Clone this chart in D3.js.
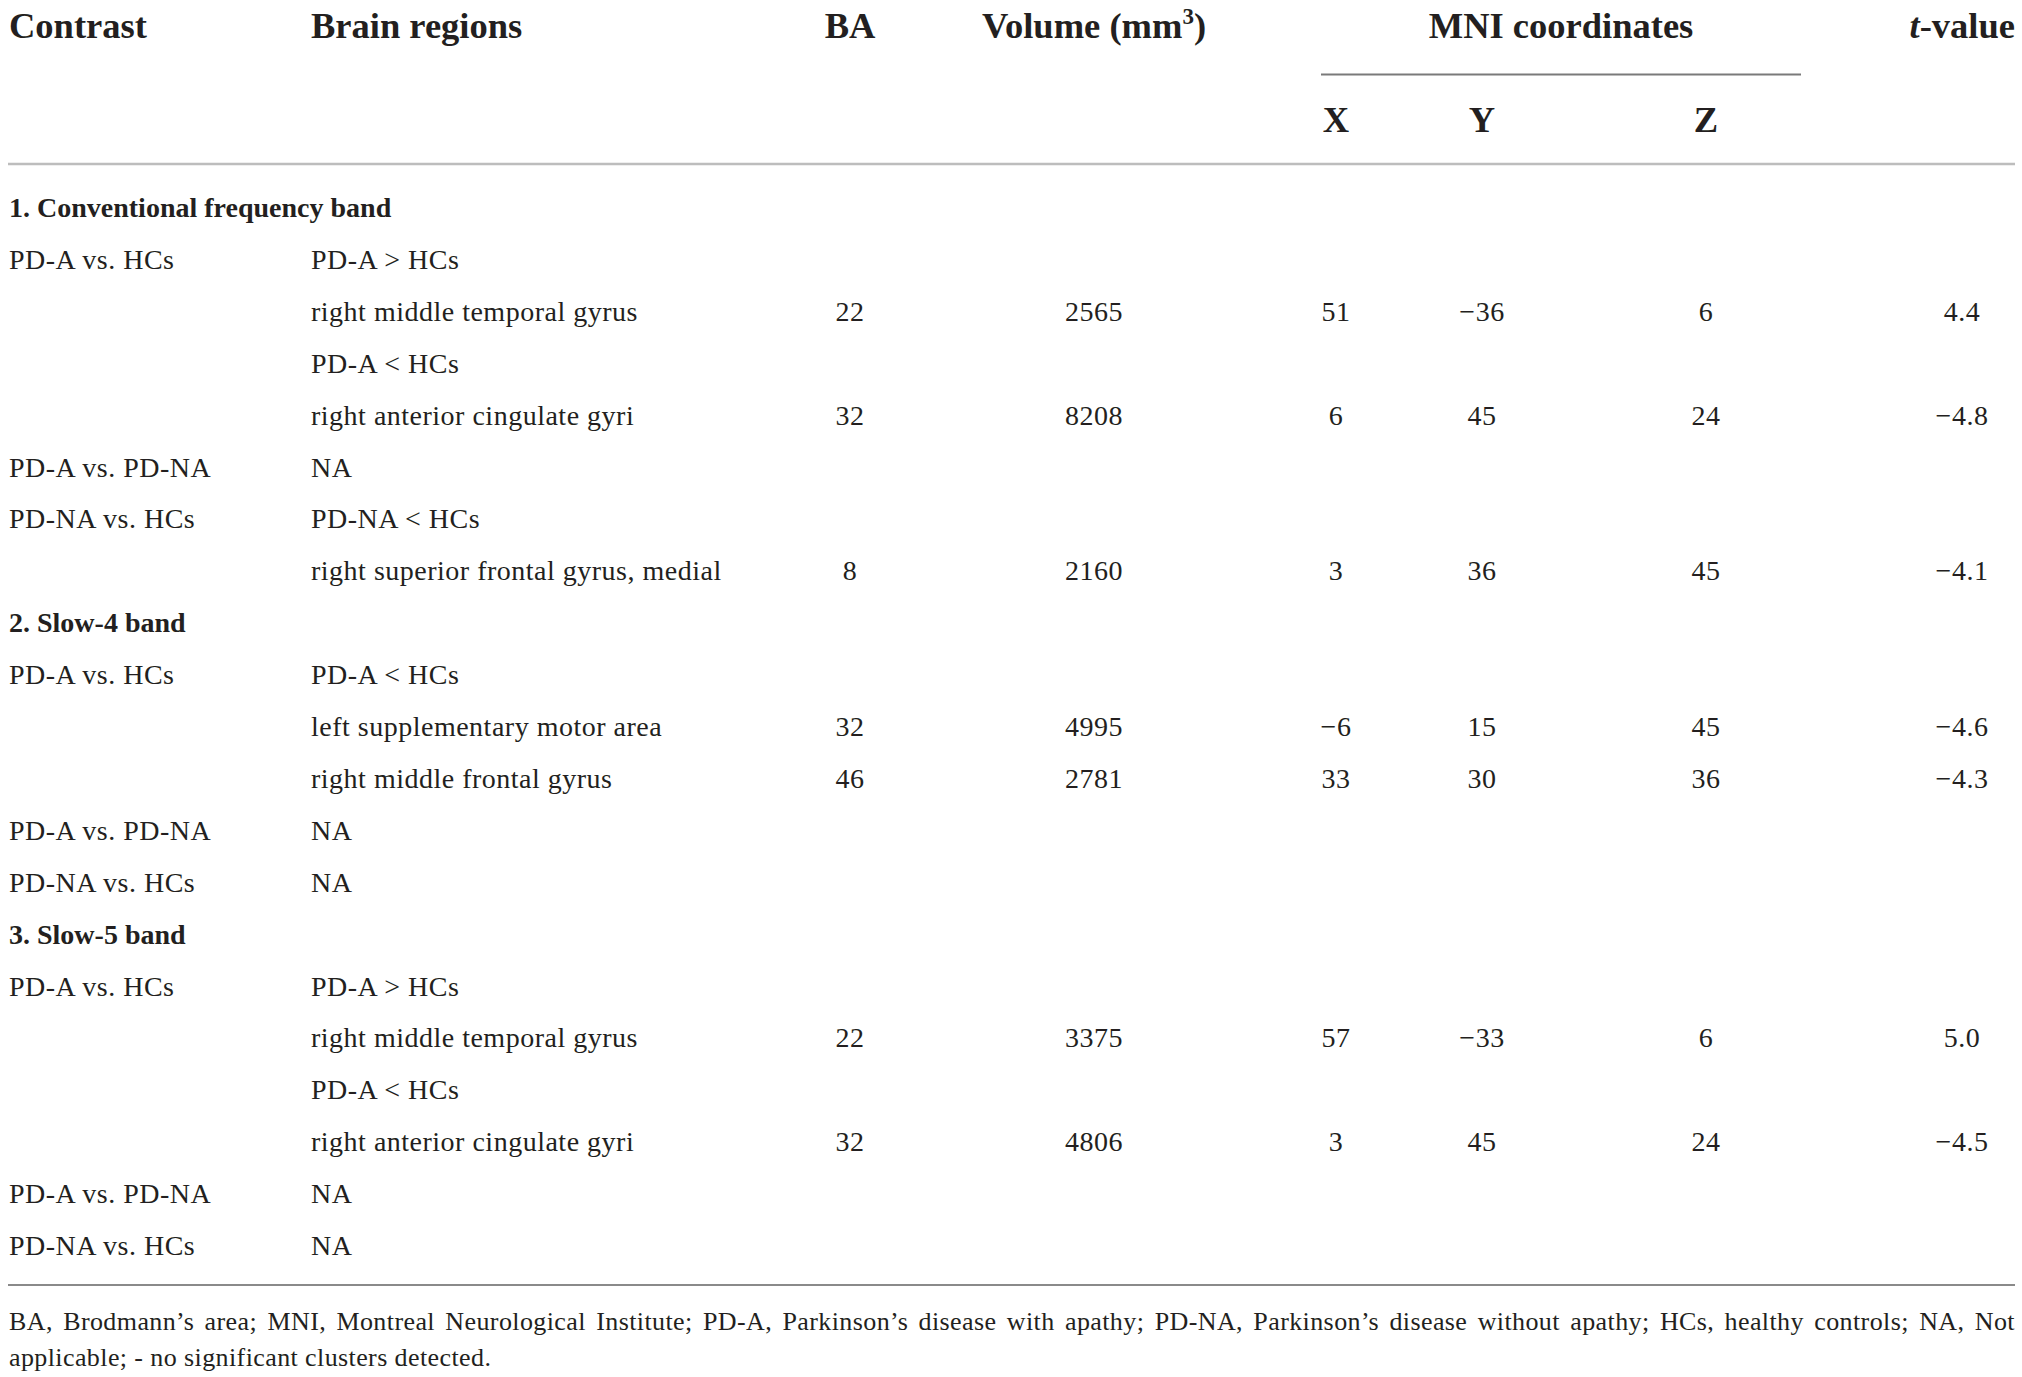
<!DOCTYPE html>
<html>
<head>
<meta charset="utf-8">
<script src="https://cdn.jsdelivr.net/npm/d3@7"></script>
<style>
  html, body { margin: 0; padding: 0; background: #fff; }
  svg { display: block; }
  text { font-family: "Liberation Serif", "Times New Roman", serif; fill: #231f20; }
</style>
</head>
<body>
<svg id="tbl" width="2022" height="1377"></svg>
<script>
'use strict';

// table data, one entry per body row
var contrastCol = [
    '1. Conventional frequency band', 'PD-A vs. HCs', '', '', '', 'PD-A vs. PD-NA', 'PD-NA vs. HCs', '',
    '2. Slow-4 band', 'PD-A vs. HCs', '', '', 'PD-A vs. PD-NA', 'PD-NA vs. HCs',
    '3. Slow-5 band', 'PD-A vs. HCs', '', '', '', 'PD-A vs. PD-NA', 'PD-NA vs. HCs'
];
var sectionRows = [0, 8, 14];
var regionCol = [
    '', 'PD-A > HCs', 'right middle temporal gyrus', 'PD-A < HCs', 'right anterior cingulate gyri', 'NA', 'PD-NA < HCs', 'right superior frontal gyrus, medial',
    '', 'PD-A < HCs', 'left supplementary motor area', 'right middle frontal gyrus', 'NA', 'NA',
    '', 'PD-A > HCs', 'right middle temporal gyrus', 'PD-A < HCs', 'right anterior cingulate gyri', 'NA', 'NA'
];
var baVals = [null, null, 22, null, 32, null, null, 8, null, null, 32, 46, null, null, null, null, 22, null, 32, null, null];
var volumeVals = [null, null, 2565, null, 8208, null, null, 2160, null, null, 4995, 2781, null, null, null, null, 3375, null, 4806, null, null];
var xVals = [null, null, 51, null, 6, null, null, 3, null, null, -6, 33, null, null, null, null, 57, null, 3, null, null];
var yVals = [null, null, -36, null, 45, null, null, 36, null, null, 15, 30, null, null, null, null, -33, null, 45, null, null];
var zVals = [null, null, 6, null, 24, null, null, 45, null, null, 45, 36, null, null, null, null, 6, null, 24, null, null];
var tVals = [null, null, 4.4, null, -4.8, null, null, -4.1, null, null, -4.6, -4.3, null, null, null, null, 5.0, null, -4.5, null, null];

var columnKeys = ['contrast', 'region', 'ba', 'volume', 'x', 'y', 'z', 't'];
var footnoteLines = [
    'BA, Brodmann\u2019s area; MNI, Montreal Neurological Institute; PD-A, Parkinson\u2019s disease with apathy; PD-NA, Parkinson\u2019s disease without apathy; HCs, healthy controls; NA, Not',
    'applicable; - no significant clusters detected.'
];

var svg = d3.select('#tbl');
var left = 9;
var right = 2015;

var colX = d3.scaleOrdinal()
    .domain(columnKeys)
    .range([9, 311, 850, 1094, 1336, 1482, 1706, 1962]);

var rowY = d3.scaleLinear()
    .domain([0, contrastCol.length - 1])
    .range([217, 1255]);

var fmtInt = d3.format('d');
var fmtT = d3.format('.1f');

// header
var head = svg.append('g')
    .attr('font-weight', 'bold')
    .attr('font-size', 36.5);

head.append('text').attr('x', colX('contrast')).attr('y', 38).text('Contrast');
head.append('text').attr('x', colX('region')).attr('y', 38).text('Brain regions');
head.append('text').attr('x', colX('ba')).attr('y', 38).attr('text-anchor', 'middle').text('BA');

var vol = head.append('text').attr('x', colX('volume')).attr('y', 38).attr('text-anchor', 'middle');
vol.append('tspan').text('Volume (mm');
vol.append('tspan').attr('font-size', 23).attr('dy', -14).text('3');
vol.append('tspan').attr('dy', 14).text(')');

head.append('text').attr('x', 1561).attr('y', 38).attr('text-anchor', 'middle').text('MNI coordinates');

var tv = head.append('text').attr('x', right).attr('y', 38).attr('text-anchor', 'end');
tv.append('tspan').attr('font-style', 'italic').text('t');
tv.append('tspan').text('-value');

head.selectAll('text.axis')
    .data(['x', 'y', 'z'])
    .enter()
    .append('text')
    .attr('class', 'axis')
    .attr('x', function (d) { return colX(d); })
    .attr('y', 132)
    .attr('text-anchor', 'middle')
    .text(function (d) { return d.toUpperCase(); });

svg.append('line')
    .attr('x1', 1321).attr('x2', 1801)
    .attr('y1', 74.5).attr('y2', 74.5)
    .attr('stroke', '#7a7a7a').attr('stroke-width', 2);

svg.append('line')
    .attr('x1', 8).attr('x2', right)
    .attr('y1', 164).attr('y2', 164)
    .attr('stroke', '#bdbdbd').attr('stroke-width', 2.5);

// body
var body = svg.append('g')
    .attr('font-size', 28)
    .attr('letter-spacing', 0.5);

body.selectAll('text.contrast')
    .data(contrastCol)
    .enter()
    .append('text')
    .attr('class', 'contrast')
    .attr('x', colX('contrast'))
    .attr('y', function (d, i) { return rowY(i); })
    .attr('font-weight', function (d, i) { return sectionRows.indexOf(i) >= 0 ? 'bold' : null; })
    .attr('letter-spacing', function (d, i) { return sectionRows.indexOf(i) >= 0 ? 0 : null; })
    .text(function (d) { return d; });

body.selectAll('text.region')
    .data(regionCol)
    .enter()
    .append('text')
    .attr('class', 'region')
    .attr('x', colX('region'))
    .attr('y', function (d, i) { return rowY(i); })
    .text(function (d) { return d; });

function numberColumn(key, values, fmt) {
    body.selectAll('text.col_' + key)
        .data(values)
        .enter()
        .append('text')
        .attr('class', 'col_' + key)
        .attr('x', colX(key))
        .attr('y', function (d, i) { return rowY(i); })
        .attr('text-anchor', 'middle')
        .text(function (d) { return d === null ? '' : fmt(d); });
}

numberColumn('ba', baVals, fmtInt);
numberColumn('volume', volumeVals, fmtInt);
numberColumn('x', xVals, fmtInt);
numberColumn('y', yVals, fmtInt);
numberColumn('z', zVals, fmtInt);
numberColumn('t', tVals, fmtT);

svg.append('line')
    .attr('x1', 8).attr('x2', right)
    .attr('y1', 1285).attr('y2', 1285)
    .attr('stroke', '#8a8a8a').attr('stroke-width', 2);

// footnote, first line justified word by word
var foot = svg.append('g')
    .attr('font-size', 26)
    .attr('letter-spacing', 0.4);

var words = footnoteLines[0].split(' ');
var wordNodes = foot.selectAll('text.w')
    .data(words)
    .enter()
    .append('text')
    .attr('class', 'w')
    .attr('y', 1330)
    .text(function (d) { return d; });

var widths = [];
wordNodes.each(function () { widths.push(this.getComputedTextLength()); });
var gap = (right - left - d3.sum(widths)) / (words.length - 1);
var pos = left;
wordNodes.attr('x', function (d, i) {
    var x = pos;
    pos += widths[i] + gap;
    return x;
});

foot.append('text')
    .attr('x', left)
    .attr('y', 1366)
    .text(footnoteLines[1]);
</script>
</body>
</html>
